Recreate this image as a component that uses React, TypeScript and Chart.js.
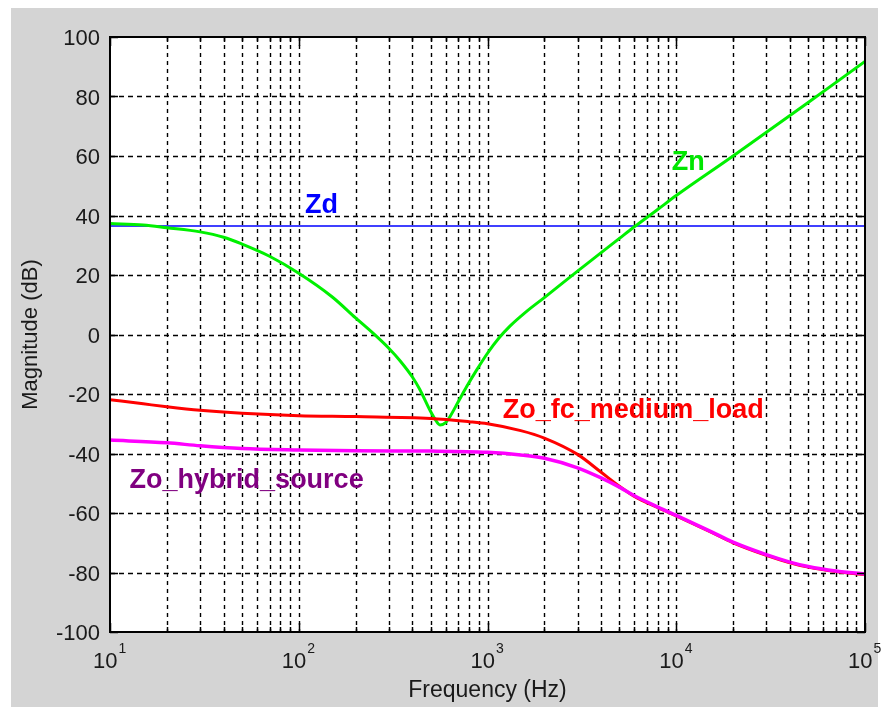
import { useEffect, useRef } from "react";
import { Chart, registerables } from "chart.js";

Chart.register(...registerables);

// Zn — magnitude (dB) vs frequency (Hz)
const freqZn = [10, 15, 20, 30, 40, 50, 70, 100, 150, 200, 250, 300, 344, 400, 438, 495, 530, 560, 600, 633, 700, 776, 877, 1000, 1150, 1315, 1600, 2000, 3000, 4000, 5000, 6000, 8000, 10000, 20000, 50000, 100000];
const magZn = [37.3, 36.8, 35.9, 34.5, 32.7, 30.4, 26.3, 20.6, 12.7, 5.6, 0.2, -4.6, -8.8, -14.3, -18.5, -25.4, -28.7, -30.4, -29.6, -27.6, -22.6, -17.5, -11.9, -6.3, -1.2, 2.8, 7.6, 12.4, 21.3, 27.5, 32.3, 36.2, 42.1, 46.7, 60, 78, 91.8];

// Zd — flat
const freqZd = [10, 100000];
const magZd = [36.5, 36.5];

// Zo_fc_medium_load
const freqFc = [10, 15, 20, 30, 50, 100, 200, 500, 800, 1000, 1500, 2000, 3000, 4000, 5000, 6000, 8000, 10000, 15000, 20000, 30000, 40000, 50000, 70000, 100000];
const magFc = [-21.9, -23.3, -24.3, -25.5, -26.5, -27.3, -27.6, -28.2, -29.3, -30.0, -32.3, -34.8, -40.3, -46.3, -51.0, -54.4, -58.2, -61.0, -66.2, -70.0, -74.2, -76.7, -78.2, -79.7, -80.7];

// Zo_hybrid_source
const freqHy = [10, 20, 30, 50, 100, 200, 500, 1000, 1500, 2000, 3000, 4000, 5000, 6000, 8000, 10000, 15000, 20000, 30000, 40000, 50000, 70000, 100000];
const magHy = [-35.5, -36.4, -37.4, -38.3, -38.8, -39.1, -39.2, -39.6, -40.5, -41.6, -44.8, -48.2, -51.3, -54.2, -58.0, -60.8, -66.0, -69.8, -74.0, -76.5, -78.0, -79.5, -80.5];

// Axis ticks
const yTicks = [-100, -80, -60, -40, -20, 0, 20, 40, 60, 80, 100];
const xDecades = [10, 100, 1000, 10000, 100000];
const xMinor = [2, 3, 4, 5, 6, 7, 8, 9];

// In-plot curve labels: text, anchor frequency, anchor magnitude (left/baseline), colour
const labelText = ["Zd", "Zn", "Zo_fc_medium_load", "Zo_hybrid_source"];
const labelFreq = [108, 9460, 1205, 12.7];
const labelMag = [40.7, 55.3, -28.2, -51.5];
const labelColor = ["#0000ff", "#00e600", "#ff0000", "#800080"];

const FONT = "'Liberation Sans', Arial, Helvetica, sans-serif";
const INK = "#1a1a1a";

function pts(f: number[], m: number[]) {
  return f.map((x, i) => ({ x, y: m[i] }));
}

function gridFreqs(): { f: number; major: boolean }[] {
  const out: { f: number; major: boolean }[] = [];
  for (let d = 0; d < xDecades.length; d++) {
    out.push({ f: xDecades[d], major: true });
    if (d < xDecades.length - 1) for (const k of xMinor) out.push({ f: xDecades[d] * k, major: false });
  }
  return out;
}

const axesPlugin = {
  id: "matlabAxes",
  beforeDraw(chart: any) {
    const { ctx, chartArea: a } = chart;
    ctx.save();
    ctx.fillStyle = "#ffffff";
    ctx.fillRect(a.left, a.top, a.right - a.left, a.bottom - a.top);
    ctx.restore();
  },
  beforeDatasetsDraw(chart: any) {
    const { ctx, chartArea: a, scales } = chart;
    const x = scales.x, y = scales.y;
    ctx.save();
    ctx.strokeStyle = "#000";
    ctx.lineWidth = 1.4;
    ctx.setLineDash([4, 4]);
    for (const g of gridFreqs()) {
      if (g.f <= 10 || g.f >= 100000) continue;
      const px = Math.round(x.getPixelForValue(g.f)) + 0.5;
      ctx.beginPath();
      ctx.moveTo(px, a.top);
      ctx.lineTo(px, a.bottom);
      ctx.stroke();
    }
    ctx.setLineDash([5, 4]);
    for (const v of yTicks) {
      if (v <= -100 || v >= 100) continue;
      const py = Math.round(y.getPixelForValue(v)) + 0.5;
      ctx.beginPath();
      ctx.moveTo(a.left, py);
      ctx.lineTo(a.right, py);
      ctx.stroke();
    }
    ctx.restore();
  },
  afterDatasetsDraw(chart: any) {
    const { ctx, scales } = chart;
    ctx.save();
    ctx.font = `bold 27px ${FONT}`;
    ctx.textAlign = "left";
    ctx.textBaseline = "alphabetic";
    labelText.forEach((t, i) => {
      ctx.fillStyle = labelColor[i];
      ctx.fillText(t, scales.x.getPixelForValue(labelFreq[i]), scales.y.getPixelForValue(labelMag[i]));
    });
    ctx.restore();
  },
  afterDraw(chart: any) {
    const { ctx, chartArea: a, scales } = chart;
    const x = scales.x, y = scales.y;
    ctx.save();
    // inward tick marks
    ctx.strokeStyle = "#000";
    ctx.lineWidth = 1.5;
    ctx.setLineDash([]);
    for (const v of yTicks) {
      const py = Math.round(y.getPixelForValue(v)) + 0.5;
      ctx.beginPath();
      ctx.moveTo(a.left, py); ctx.lineTo(a.left + 8, py);
      ctx.moveTo(a.right, py); ctx.lineTo(a.right - 8, py);
      ctx.stroke();
    }
    for (const g of gridFreqs()) {
      const px = Math.round(x.getPixelForValue(g.f)) + 0.5;
      const len = g.major ? 9 : 5;
      ctx.beginPath();
      ctx.moveTo(px, a.bottom); ctx.lineTo(px, a.bottom - len);
      ctx.moveTo(px, a.top); ctx.lineTo(px, a.top + len);
      ctx.stroke();
    }
    // axes box
    ctx.lineWidth = 2;
    ctx.strokeRect(a.left, a.top, a.right - a.left, a.bottom - a.top);

    // y tick labels
    ctx.fillStyle = INK;
    ctx.font = `22px ${FONT}`;
    ctx.textAlign = "right";
    ctx.textBaseline = "alphabetic";
    for (const v of yTicks) {
      ctx.fillText(String(v), a.left - 10, y.getPixelForValue(v) + 8);
    }
    // x tick labels: 10 with superscript exponent
    ctx.textAlign = "left";
    for (const f of xDecades) {
      const px = x.getPixelForValue(f);
      const exp = String(Math.round(Math.log10(f)));
      ctx.font = `22px ${FONT}`;
      const baseW = ctx.measureText("10").width;
      const left = px - 17;
      ctx.fillText("10", left, a.bottom + 36);
      ctx.font = `14px ${FONT}`;
      ctx.fillText(exp, left + baseW + 1, a.bottom + 21);
    }
    ctx.restore();
  },
};

export default function App() {
  const ref = useRef<HTMLCanvasElement | null>(null);

  useEffect(() => {
    const canvas = ref.current;
    if (!canvas) return;
    const chart = new Chart(canvas, {
      type: "line",
      data: {
        datasets: [
          { label: "Zo_hybrid_source", data: pts(freqHy, magHy), borderColor: "#ff00ff", borderWidth: 3.5 },
          { label: "Zo_fc_medium_load", data: pts(freqFc, magFc), borderColor: "#ff0000", borderWidth: 3 },
          { label: "Zn", data: pts(freqZn, magZn), borderColor: "#00f000", borderWidth: 3 },
          { label: "Zd", data: pts(freqZd, magZd), borderColor: "#0000ff", borderWidth: 1.5 },
        ].map((d) => ({ ...d, pointRadius: 0, fill: false, cubicInterpolationMode: "monotone" as const })),
      },
      options: {
        responsive: false,
        animation: false,
        events: [],
        layout: { padding: { left: 0, top: 37, right: 22, bottom: 0 } },
        plugins: { legend: { display: false }, tooltip: { enabled: false } },
        scales: {
          x: {
            type: "logarithmic",
            min: 10,
            max: 100000,
            grid: { display: false },
            border: { display: false },
            ticks: { display: false },
            title: {
              display: true,
              text: "Frequency (Hz)",
              color: INK,
              font: { family: FONT, size: 23 },
              padding: { top: 0, bottom: 3 },
            },
            afterFit: (s: any) => { s.height = 75; },
          },
          y: {
            type: "linear",
            min: -100,
            max: 100,
            grid: { display: false },
            border: { display: false },
            ticks: { display: false, stepSize: 20 },
            title: {
              display: true,
              text: "Magnitude (dB)",
              color: INK,
              font: { family: FONT, size: 22 },
              padding: { top: 18, bottom: 0 },
            },
            afterFit: (s: any) => { s.width = 110; },
          },
        },
      },
      plugins: [axesPlugin],
    });
    return () => chart.destroy();
  }, []);

  return (
    <div style={{ position: "fixed", left: 0, top: 0, width: 887, height: 707, background: "#ffffff", overflow: "hidden" }}>
      <div style={{ position: "absolute", left: 11, top: 8, width: 867, height: 699, background: "#d4d4d4" }} />
      <canvas ref={ref} width={887} height={707} style={{ position: "absolute", left: 0, top: 0, width: 887, height: 707 }} />
    </div>
  );
}
